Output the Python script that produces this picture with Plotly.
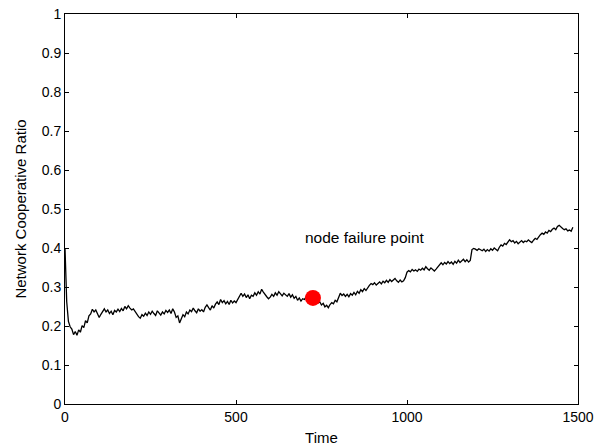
import plotly.graph_objects as go

time = list(range(0, 1490, 5))

ratio = [
    0.400, 0.262, 0.212, 0.198, 0.192, 0.178, 0.186, 0.176, 0.190, 0.184, 0.201, 0.196, 0.214, 0.208, 0.226, 0.231, 0.243, 0.236, 0.241, 0.233,
    0.222, 0.230, 0.238, 0.244, 0.236, 0.241, 0.232, 0.238, 0.229, 0.240, 0.236, 0.243, 0.237, 0.245, 0.239, 0.250, 0.244, 0.252, 0.246, 0.241,
    0.244, 0.236, 0.231, 0.224, 0.220, 0.229, 0.225, 0.233, 0.227, 0.236, 0.230, 0.238, 0.232, 0.227, 0.239, 0.233, 0.228, 0.236, 0.231, 0.240,
    0.235, 0.241, 0.232, 0.244, 0.236, 0.222, 0.226, 0.208, 0.221, 0.229, 0.224, 0.236, 0.231, 0.241, 0.237, 0.246, 0.239, 0.234, 0.244, 0.238,
    0.242, 0.236, 0.248, 0.254, 0.247, 0.241, 0.252, 0.246, 0.256, 0.262, 0.255, 0.268, 0.260, 0.265, 0.257, 0.263, 0.255, 0.266, 0.259, 0.264,
    0.260, 0.268, 0.275, 0.284, 0.276, 0.282, 0.273, 0.280, 0.270, 0.279, 0.276, 0.285, 0.279, 0.288, 0.282, 0.294, 0.287, 0.280, 0.275, 0.270,
    0.274, 0.281, 0.276, 0.285, 0.279, 0.288, 0.282, 0.277, 0.284, 0.279, 0.276, 0.283, 0.274, 0.280, 0.271, 0.276, 0.266, 0.272, 0.264, 0.270,
    0.268, 0.275, 0.270, 0.277, 0.272, 0.274, 0.268, 0.264, 0.259, 0.262, 0.254, 0.258, 0.249, 0.253, 0.247, 0.255, 0.260, 0.257, 0.266, 0.262,
    0.272, 0.284, 0.278, 0.282, 0.276, 0.281, 0.275, 0.283, 0.279, 0.286, 0.280, 0.289, 0.284, 0.293, 0.288, 0.296, 0.291, 0.299, 0.304, 0.309,
    0.306, 0.311, 0.305, 0.309, 0.313, 0.308, 0.315, 0.311, 0.317, 0.312, 0.319, 0.314, 0.318, 0.322, 0.316, 0.312, 0.318, 0.313, 0.316, 0.324,
    0.338, 0.342, 0.339, 0.345, 0.341, 0.344, 0.340, 0.346, 0.343, 0.348, 0.344, 0.352, 0.347, 0.343, 0.349, 0.344, 0.341, 0.346, 0.352, 0.358,
    0.362, 0.357, 0.363, 0.359, 0.365, 0.360, 0.364, 0.358, 0.366, 0.361, 0.369, 0.363, 0.367, 0.371, 0.365, 0.370, 0.364, 0.368, 0.396, 0.399,
    0.397, 0.394, 0.398, 0.395, 0.393, 0.397, 0.391, 0.396, 0.392, 0.398, 0.394, 0.400, 0.396, 0.393, 0.402, 0.408, 0.405, 0.412, 0.409, 0.416,
    0.421, 0.416, 0.419, 0.413, 0.417, 0.411, 0.415, 0.419, 0.414, 0.418, 0.416, 0.421, 0.417, 0.414, 0.420, 0.425, 0.422, 0.429, 0.434, 0.438,
    0.435, 0.441, 0.438, 0.445, 0.442, 0.448, 0.451, 0.447, 0.455, 0.458, 0.453, 0.450, 0.447, 0.449, 0.444, 0.446, 0.443, 0.453,
]

failure_time = [725]
failure_ratio = [0.272]
annotation_text = "node failure point"
annotation_pos = (877, 0.426)

x_ticks = [0, 500, 1000, 1500]
y_ticks = [0, 0.1, 0.2, 0.3, 0.4, 0.5, 0.6, 0.7, 0.8, 0.9, 1]
y_ticklabels = ["0", "0.1", "0.2", "0.3", "0.4", "0.5", "0.6", "0.7", "0.8", "0.9", "1"]

FONT = "Liberation Sans, Arial"

fig = go.Figure()
fig.add_trace(go.Scatter(x=time, y=ratio, mode="lines",
                         line=dict(color="black", width=1.3), showlegend=False))
fig.add_trace(go.Scatter(x=failure_time, y=failure_ratio, mode="markers",
                         marker=dict(color="red", size=16, line=dict(width=0)),
                         showlegend=False))
fig.add_annotation(x=annotation_pos[0], y=annotation_pos[1], text=annotation_text,
                   showarrow=False, font=dict(family=FONT, size=15.5, color="black"))

axis_common = dict(showline=True, linecolor="black", linewidth=1, mirror="ticks",
                   ticks="inside", ticklen=4, tickcolor="black", showgrid=False,
                   zeroline=False, automargin=False, ticklabeloverflow="allow",
                   tickfont=dict(family=FONT, size=14, color="black"))

fig.update_xaxes(range=[0, 1500], tickvals=x_ticks,
                 title=dict(text="Time", font=dict(family=FONT, size=15, color="black"), standoff=8),
                 **axis_common)
fig.update_yaxes(range=[0, 1], tickvals=y_ticks, ticktext=y_ticklabels,
                 title=dict(text="Network Cooperative Ratio", font=dict(family=FONT, size=15, color="black"), standoff=11),
                 **axis_common)

fig.update_layout(width=597, height=448, margin=dict(l=65, r=19, t=14, b=44),
                  plot_bgcolor="white", paper_bgcolor="white")

fig.write_html("out.html")
